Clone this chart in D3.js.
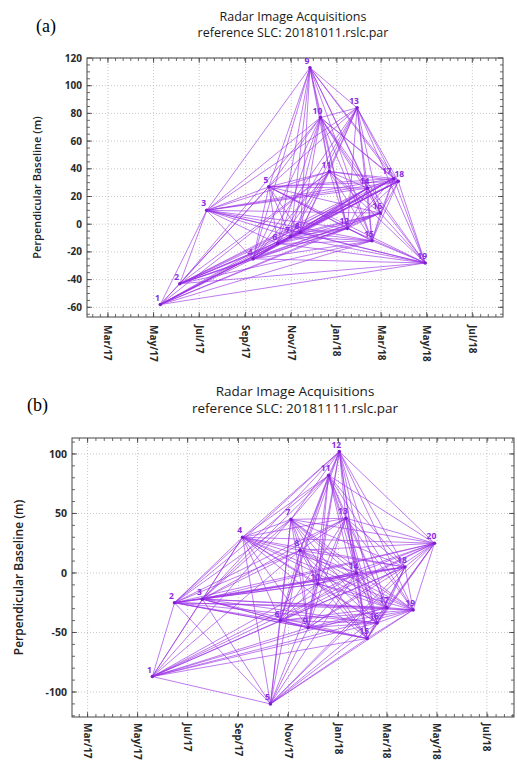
<!DOCTYPE html>
<html>
<head>
<meta charset="utf-8">
<script src="https://cdn.jsdelivr.net/npm/d3@7"></script>
<style>
  body { margin: 0; background: #fff; }
  svg { display: block; font-family: "Open Sans", "Noto Sans", sans-serif; }
  .tick-label { font-size: 10px; font-weight: 700; fill: #2a2a2a; }
  .axis-title { font-size: 11px; font-weight: 600; fill: #222; }
  .chart-title { font-size: 13px; fill: #1a1a1a; }
  .panel-tag { font-family: "Liberation Serif", "DejaVu Serif", serif; font-size: 18px; fill: #000; }
  .grid { stroke: #b0b0b0; stroke-width: 0.7; stroke-dasharray: 1 2; }
  .frame { fill: none; stroke: #444; stroke-width: 1; }
  .link { stroke: #9a2fe6; stroke-opacity: 0.75; stroke-width: 0.85; }
  .node-label { font-size: 8.5px; font-weight: 700; fill: #8a2be2; }
</style>
</head>
<body>
<div id="chart"></div>
<script>
// panel (a): reference 20181011
const datesA = ["2017-05-10", "2017-06-05", "2017-07-11", "2017-09-11", "2017-10-02", "2017-10-14",
  "2017-10-31", "2017-11-13", "2017-11-26", "2017-12-10", "2017-12-22", "2018-01-15", "2018-01-28",
  "2018-02-11", "2018-02-17", "2018-02-28", "2018-03-18", "2018-03-24", "2018-04-29"];
const bperpA = [-58, -43, 10, -25, 27, -14, -9, -6, 113, 77, 38, -3, 84, 26, -12, 8, 33, 31, -28];
// each entry: "node:partners"
const linksA = [
  "1:2,3,4,5,6,7,8,11,12,14,15,16,17,18,19",
  "2:3,4,5,6,7,8,10,11,12,14,15,16,17,18,19",
  "3:4,5,6,7,8,9,10,11,12,13,14,15,16,17,18,19",
  "4:5,6,7,8,9,10,11,12,13,14,15,16,17,18,19",
  "5:6,7,8,9,10,11,12,13,14,15,16,17,18,19",
  "6:7,8,9,10,11,12,13,14,15,16,17,18,19",
  "7:8,9,10,11,12,13,14,15,16,17,18,19",
  "8:9,10,11,12,13,14,15,16,17,18,19",
  "9:10,11,12,13,14,15,16,17,18",
  "10:11,12,13,14,15,16,17,18,19",
  "11:12,13,14,15,16,17,18,19",
  "12:13,14,15,16,17,18,19",
  "13:14,15,16,17,18,19",
  "14:15,16,17,18,19",
  "15:16,17,18,19",
  "16:17,18,19",
  "17:18,19",
  "18:19"
];
const yTicksA = [-60, -40, -20, 0, 20, 40, 60, 80, 100, 120];

// panel (b): reference 20181111
const datesB = ["2017-05-19", "2017-06-15", "2017-07-19", "2017-09-06", "2017-10-10", "2017-10-22",
  "2017-11-04", "2017-11-15", "2017-11-25", "2017-12-07", "2017-12-20", "2018-01-02", "2018-01-10",
  "2018-01-23", "2018-02-05", "2018-02-17", "2018-03-01", "2018-03-23", "2018-04-02", "2018-04-28"];
const bperpB = [-87, -25, -22, 30, -110, -40, 45, 19, -46, -9, 82, 102, 46, 0, -55, -42, -29, 5, -31, 25];
const linksB = [
  "1:2,3,4,5,6,7,8,9,10,14,15,16,17,18,19,20",
  "2:3,4,5,6,7,8,9,10,11,12,13,14,15,16,17,18,19,20",
  "3:4,5,6,7,8,9,10,11,12,13,14,15,16,17,18,19,20",
  "4:5,6,7,8,9,10,11,12,13,14,15,16,17,18,19,20",
  "5:6,7,8,9,10,14,15,16,17,18,19,20",
  "6:7,8,9,10,11,12,13,14,15,16,17,18,19,20",
  "7:8,9,10,11,12,13,14,15,16,17,18,19,20",
  "8:9,10,11,12,13,14,15,16,17,18,19,20",
  "9:10,11,12,13,14,15,16,17,18,19,20",
  "10:11,12,13,14,15,16,17,18,19,20",
  "11:12,13,14,15,16,17,18,19,20",
  "12:13,14,15,16,17,18,19,20",
  "13:14,15,16,17,18,19,20",
  "14:15,16,17,18,19,20",
  "15:16,17,18,19,20",
  "16:17,18,19,20",
  "17:18,19,20",
  "18:19,20",
  "19:20"
];
const yTicksB = [-100, -50, 0, 50, 100];

const parseDate = d3.timeParse("%Y-%m-%d");
const monthFormat = d3.timeFormat("%b/%y");

const svg = d3.select("#chart").append("svg")
  .attr("width", 517)
  .attr("height", 760);

function parseLinks(rows) {
  const out = [];
  rows.forEach(r => {
    const [a, rest] = r.split(":");
    rest.split(",").forEach(b => out.push([+a - 1, +b - 1]));
  });
  return out;
}

function drawPanel(cfg, dates, values, linkRows, yTicks) {
  const g = svg.append("g");
  const nodes = dates.map((d, i) => ({ id: i + 1, date: parseDate(d), b: values[i] }));
  const links = parseLinks(linkRows);

  const x = d3.scaleTime().domain(cfg.xDomain.map(parseDate)).range([cfg.left, cfg.right]);
  const y = d3.scaleLinear().domain(cfg.yDomain).range([cfg.bottom, cfg.top]);

  const months = x.ticks(d3.timeMonth.every(2));

  // grid
  g.append("g").selectAll("line").data(months).join("line")
    .attr("class", "grid")
    .attr("x1", d => x(d)).attr("x2", d => x(d))
    .attr("y1", cfg.top).attr("y2", cfg.bottom);
  g.append("g").selectAll("line").data(yTicks).join("line")
    .attr("class", "grid")
    .attr("x1", cfg.left).attr("x2", cfg.right)
    .attr("y1", d => y(d)).attr("y2", d => y(d));

  // minor ticks along the date axis (6 per two-month step)
  const step = (x(months[1]) - x(months[0])) / 6;
  const minorX = [];
  for (let p = x(months[0]); p > cfg.left; p -= step) minorX.push(p);
  for (let p = x(months[0]) + step; p < cfg.right; p += step) minorX.push(p);
  const minorY = d3.range(Math.ceil(cfg.yDomain[0] / cfg.yMinor) * cfg.yMinor, cfg.yDomain[1], cfg.yMinor);

  const ticks = g.append("g").attr("stroke", "#444").attr("stroke-width", 0.8);
  minorX.forEach(p => {
    ticks.append("line").attr("x1", p).attr("x2", p).attr("y1", cfg.bottom).attr("y2", cfg.bottom - 3);
    ticks.append("line").attr("x1", p).attr("x2", p).attr("y1", cfg.top).attr("y2", cfg.top + 3);
  });
  months.forEach(m => {
    ticks.append("line").attr("x1", x(m)).attr("x2", x(m)).attr("y1", cfg.bottom).attr("y2", cfg.bottom - 5);
    ticks.append("line").attr("x1", x(m)).attr("x2", x(m)).attr("y1", cfg.top).attr("y2", cfg.top + 5);
  });
  minorY.forEach(v => {
    ticks.append("line").attr("x1", cfg.left).attr("x2", cfg.left + 3).attr("y1", y(v)).attr("y2", y(v));
    ticks.append("line").attr("x1", cfg.right).attr("x2", cfg.right - 3).attr("y1", y(v)).attr("y2", y(v));
  });
  yTicks.forEach(v => {
    ticks.append("line").attr("x1", cfg.left).attr("x2", cfg.left + 5).attr("y1", y(v)).attr("y2", y(v));
    ticks.append("line").attr("x1", cfg.right).attr("x2", cfg.right - 5).attr("y1", y(v)).attr("y2", y(v));
  });

  g.append("rect").attr("class", "frame")
    .attr("x", cfg.left).attr("y", cfg.top)
    .attr("width", cfg.right - cfg.left).attr("height", cfg.bottom - cfg.top);

  // tick labels
  g.append("g").selectAll("text").data(yTicks).join("text")
    .attr("class", "tick-label")
    .attr("x", cfg.left - 5).attr("y", d => y(d))
    .attr("dy", "0.35em")
    .attr("text-anchor", "end")
    .style("font-size", cfg.tickSize + "px")
    .text(d => String(d));
  g.append("g").selectAll("text").data(months).join("text")
    .attr("class", "tick-label")
    .attr("transform", d => `translate(${x(d)},${cfg.bottom + cfg.xLabelGap}) rotate(90)`)
    .attr("dy", "0.35em")
    .style("font-size", cfg.xTickSize + "px")
    .text(d => monthFormat(d));

  g.append("text").attr("class", "axis-title")
    .attr("transform", `translate(${cfg.yTitleX},${(cfg.top + cfg.bottom) / 2}) rotate(-90)`)
    .attr("text-anchor", "middle")
    .attr("dy", "0.35em")
    .style("font-size", cfg.axisSize + "px")
    .text("Perpendicular Baseline (m)");

  // titles
  g.append("text").attr("class", "chart-title")
    .attr("x", cfg.titleX).attr("y", cfg.titleY)
    .attr("text-anchor", "middle")
    .style("font-size", cfg.titleSize + "px")
    .text("Radar Image Acquisitions");
  g.append("text").attr("class", "chart-title")
    .attr("x", cfg.titleX).attr("y", cfg.titleY + cfg.titleSize * 1.25)
    .attr("text-anchor", "middle")
    .style("font-size", cfg.titleSize + "px")
    .text(`reference SLC: ${cfg.ref}.rslc.par`);
  g.append("text").attr("class", "panel-tag")
    .attr("x", cfg.tagX).attr("y", cfg.tagY)
    .text(cfg.tag);

  // network
  g.append("g").selectAll("line").data(links).join("line")
    .attr("class", "link")
    .attr("x1", d => x(nodes[d[0]].date)).attr("y1", d => y(nodes[d[0]].b))
    .attr("x2", d => x(nodes[d[1]].date)).attr("y2", d => y(nodes[d[1]].b));

  g.append("g").selectAll("circle").data(nodes).join("circle")
    .attr("cx", d => x(d.date)).attr("cy", d => y(d.b))
    .attr("r", 1.8)
    .attr("fill", "#7d1fd0");

  const shift = cfg.labelShift || {};
  g.append("g").selectAll("text").data(nodes).join("text")
    .attr("class", "node-label")
    .attr("x", d => x(d.date) - 3 + (shift[d.id] || 0)).attr("y", d => y(d.b) - 4)
    .attr("text-anchor", "middle")
    .text(d => d.id);
}

drawPanel({
  left: 87, right: 503, top: 58, bottom: 317,
  xDomain: ["2017-02-01", "2018-08-11"], yDomain: [-67, 120], yMinor: 5,
  tickSize: 10, xTickSize: 10, xLabelGap: 8, axisSize: 11, titleSize: 12.5, titleX: 293, titleY: 21,
  yTitleX: 37, ref: "20181011", tag: "(a)", tagX: 36, tagY: 32,
  labelShift: { 17: -4, 18: 4 }
}, datesA, bperpA, linksA, yTicksA);

drawPanel({
  left: 72, right: 514, top: 438, bottom: 717,
  xDomain: ["2017-02-10", "2018-08-03"], yDomain: [-121, 113.4], yMinor: 10,
  tickSize: 10.5, xTickSize: 10, xLabelGap: 6, axisSize: 12, titleSize: 13.5, titleX: 295, titleY: 396,
  yTitleX: 19, ref: "20181111", tag: "(b)", tagX: 27, tagY: 411
}, datesB, bperpB, linksB, yTicksB);
</script>
</body>
</html>
